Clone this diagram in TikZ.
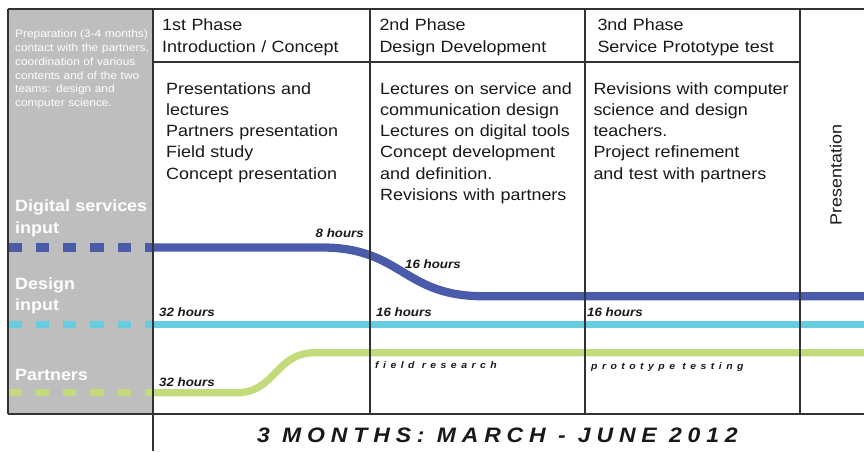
\documentclass[tikz,border=0pt]{standalone}
\usepackage{fontspec}
\setmainfont{Liberation Sans}[FakeStretch=1.1]
\definecolor{blueL}{RGB}{74,91,170}
\definecolor{cyanL}{RGB}{102,204,224}
\definecolor{greenL}{RGB}{195,219,122}
\definecolor{grayBox}{RGB}{190,190,190}
\definecolor{framec}{RGB}{50,50,50}
\definecolor{txt}{RGB}{25,25,25}
\begin{document}
\begin{tikzpicture}[x=1pt,y=-1pt,
  frame/.style={draw=framec, line width=1.3pt},
  digline/.style={line width=8.3pt, draw=blueL},
  desline/.style={line width=7.7pt, draw=cyanL},
  parline/.style={line width=7.3pt, draw=greenL},
  dashpat/.style={dash pattern=on 13.3pt off 14pt},
  body/.style={anchor=base west, inner sep=0pt, text width=205pt, align=left, font=\fontsize{16.3}{21.3}\selectfont, text=txt},
  head/.style={body, font=\fontsize{16.3}{22.3}\selectfont},
  prep/.style={anchor=base west, inner sep=0pt, text width=136pt, align=left, font=\fontsize{10.8}{13.9}\selectfont, text=white},
  lane/.style={anchor=base west, inner sep=0pt, text width=136pt, align=left, font=\fontsize{16.3}{21.5}\selectfont\bfseries, text=white},
  hrs/.style={anchor=base west, inner sep=0pt, font=\fontsize{12.1}{14}\selectfont\bfseries\itshape, text=txt},
  act/.style={anchor=base west, inner sep=0pt, font=\fontsize{9.5}{11}\selectfont\bfseries\itshape\addfontfeatures{LetterSpace=47}, text=txt},
  ttl/.style={anchor=base west, inner sep=0pt, font=\fontsize{20.9}{24}\selectfont\bfseries\itshape\addfontfeatures{LetterSpace=28}, text=txt},
]
\useasboundingbox (0,0) rectangle (864,451);
\fill[white] (0,0) rectangle (864,451);
% grey preparation box
\fill[grayBox] (8,9) rectangle (153,414);

% coordinates
\coordinate (dA) at (8.5,247.5);
\coordinate (dB) at (153,247.5);
\coordinate (dC) at (322,247.5);
\coordinate (dD) at (483,296.2);
\coordinate (dE) at (864,296.2);
\coordinate (cA) at (8.5,324.5);
\coordinate (cB) at (153,324.5);
\coordinate (cE) at (864,324.5);
\coordinate (gA) at (8.5,392.8);
\coordinate (gB) at (153,392.8);
\coordinate (gC) at (236,392.8);
\coordinate (gD) at (315,352.7);
\coordinate (gE) at (864,352.7);

% lanes
\draw[digline, dashpat] (dA) -- (dB);
\draw[digline] (dB) -- (dC) .. controls (402,247.5) and (403,296.2) .. (dD) -- (dE);
\draw[desline, dashpat] (cA) -- (cB);
\draw[desline] (cB) -- (cE);
\draw[parline, dashpat] (gA) -- (gB);
\draw[parline] (gB) -- (gC) .. controls (276,392.8) and (275,352.7) .. (gD) -- (gE);

% frame
\coordinate (tl) at (8,9);
\coordinate (tr) at (864,9);
\coordinate (bl) at (8,414);
\coordinate (br) at (864,414);
\coordinate (v1t) at (153,9);
\coordinate (v1b) at (153,451);
\coordinate (v2t) at (370,9);
\coordinate (v2b) at (370,414);
\coordinate (v3t) at (585,9);
\coordinate (v3b) at (585,414);
\coordinate (v4t) at (800,9);
\coordinate (v4b) at (800,414);
\coordinate (hl) at (153,62);
\coordinate (hr) at (800,62);
\draw[frame] (tl) -- (tr);
\draw[frame] (bl) -- (br);
\draw[frame] (tl) -- (bl);
\draw[frame] (v1t) -- (v1b);
\draw[frame] (v2t) -- (v2b);
\draw[frame] (v3t) -- (v3b);
\draw[frame] (v4t) -- (v4b);
\draw[frame] (hl) -- (hr);

% preparation text
\node[prep] (prep) at (15,37.3) {Preparation (3-4 months)\\contact with the partners,\\coordination of various\\contents and of the two\\teams: design and\\computer science.};

% lane labels
\node[lane] (ldig) at (15,211.7) {Digital services\\input};
\node[lane] (ldes) at (15,289) {Design\\input};
\node[lane] (lpar) at (15,380) {Partners};

% headers
\node[head] (h1) at (162,30) {1st Phase\\Introduction / Concept};
\node[head] (h2) at (379.3,30) {2nd Phase\\Design Development};
\node[head] (h3) at (597.3,30) {3nd Phase\\Service Prototype test};

% bodies
\node[body] (b1) at (166,94) {Presentations and\\lectures\\Partners presentation\\Field study\\Concept presentation};
\node[body] (b2) at (380,94) {Lectures on service and\\communication design\\Lectures on digital tools\\Concept development\\and definition.\\Revisions with partners};
\node[body] (b3) at (593.3,94) {Revisions with computer\\science and design\\teachers.\\Project refinement\\and test with partners};

% presentation column
\node[anchor=base, inner sep=0pt, rotate=90, font=\fontsize{16.3}{20}\selectfont, text=txt] (pres) at (841.5,175) {Presentation};

% hours
\node[hrs, anchor=base east] (h8) at (364,237.7) {8 hours};
\node[hrs] (h16a) at (405,268) {16 hours};
\node[hrs] (h32a) at (159,316.7) {32 hours};
\node[hrs] (h16b) at (376,316.7) {16 hours};
\node[hrs] (h16c) at (587,316.7) {16 hours};
\node[hrs] (h32b) at (159,386.7) {32 hours};

% activities
\node[act] (fr) at (375,368) {field research};
\node[act] (pt) at (591,369) {prototype testing};

% title
\node[ttl] (title) at (257,442.3) {3 MONTHS: MARCH - JUNE 2012};
\end{tikzpicture}
\end{document}
